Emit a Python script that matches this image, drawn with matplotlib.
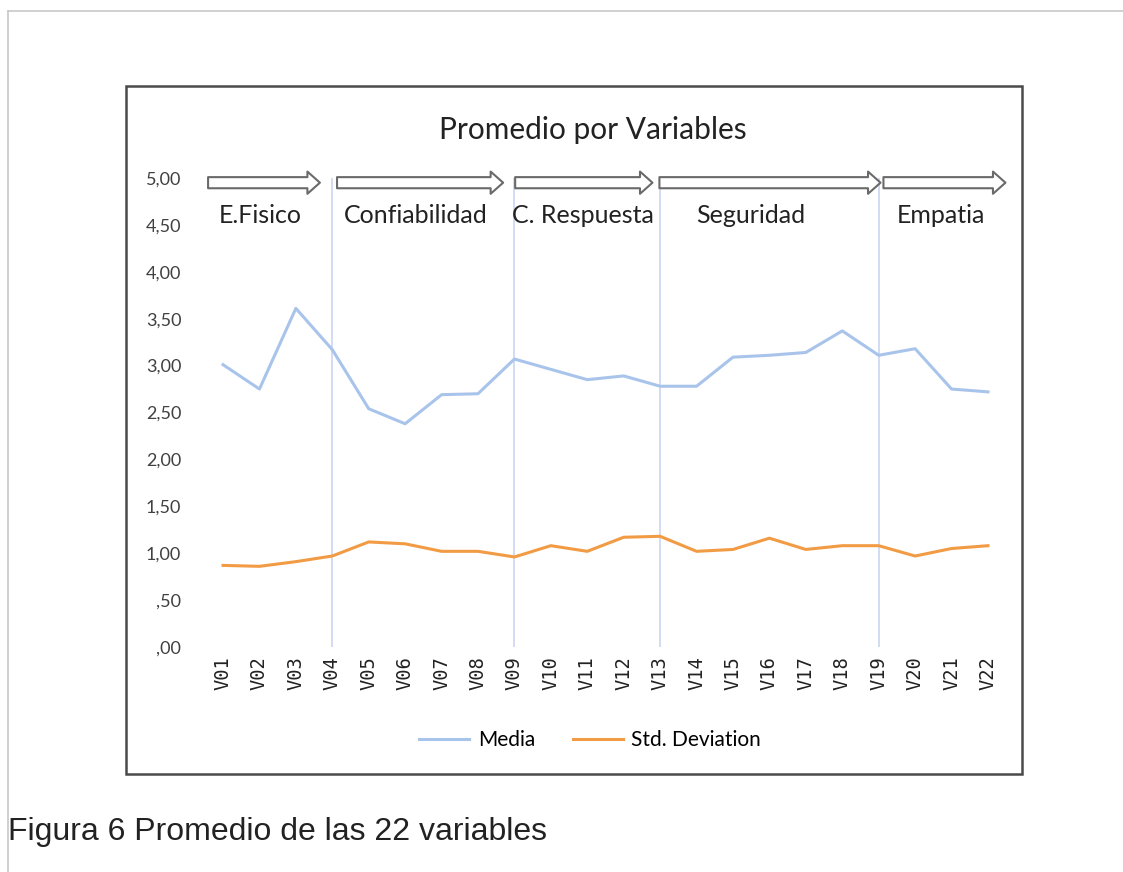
import matplotlib.pyplot as plt
from matplotlib.patches import Rectangle, FancyArrowPatch, ArrowStyle
from matplotlib.lines import Line2D
import numpy as np

# Data
variables = ['V%02d' % i for i in range(1, 23)]
media = [3.01, 2.75, 3.61, 3.17, 2.54, 2.38, 2.69, 2.70, 3.07, 2.96, 2.85,
         2.89, 2.78, 2.78, 3.09, 3.11, 3.14, 3.37, 3.11, 3.18, 2.75, 2.72]
std_dev = [0.87, 0.86, 0.91, 0.97, 1.12, 1.10, 1.02, 1.02, 0.96, 1.08, 1.02,
           1.17, 1.18, 1.02, 1.04, 1.16, 1.04, 1.08, 1.08, 0.97, 1.05, 1.08]
yticks = [0, 0.5, 1, 1.5, 2, 2.5, 3, 3.5, 4, 4.5, 5]
ytick_labels = [',00', ',50', '1,00', '1,50', '2,00', '2,50', '3,00',
                '3,50', '4,00', '4,50', '5,00']

# dimension groups: name, arrow start, arrow end (category units), label x
groups = ['E.Fisico', 'Confiabilidad', 'C. Respuesta', 'Seguridad', 'Empatia']
arrow_start = [-0.41, 3.13, 8.02, 11.98, 18.13]
arrow_end = [2.66, 7.69, 11.79, 18.05, 21.48]
label_x = [1.02, 5.3, 9.89, 14.48, 19.7]
dividers = [3, 8, 12, 18]

blue = '#a9c4eb'
orange = '#f29b45'
text_col = '#404040'
font = 'Lato'

W, H = 1123, 872
fig = plt.figure(figsize=(W / 100, H / 100), dpi=100)

# page frame and chart frame
fig.add_artist(Line2D([8 / W, 8 / W], [0, 1 - 11 / H], color='#c8c8c8', lw=1.2))
fig.add_artist(Line2D([8 / W, 1], [1 - 11 / H, 1 - 11 / H], color='#c8c8c8', lw=1.2))
fig.add_artist(Rectangle((126 / W, 1 - 774 / H), (1022 - 126) / W, (774 - 86) / H,
                         fill=False, ec='#4a4a4a', lw=1.8))

ax = fig.add_axes([204.8 / W, 1 - 647 / H, 801.4 / W, 469 / H])
x = np.arange(len(variables))

for d in dividers:
    ax.plot([d, d], [0, 5], color='#c9d6f2', lw=1.2, zorder=1)

ax.plot(x, media, color=blue, lw=2.2, label='Media', zorder=3)
ax.plot(x, std_dev, color=orange, lw=2.2, label='Std. Deviation', zorder=3)

ax.set_xlim(-0.5, len(variables) - 0.5)
ax.set_ylim(0, 5)
ax.set_yticks(yticks)
ax.set_yticklabels(ytick_labels, fontsize=13, color=text_col, family=font)
ax.set_xticks(x)
ax.set_xticklabels(variables, rotation=90, fontsize=13.5, color='#222222',
                   family='DejaVu Sans Mono')
ax.tick_params(length=0)
ax.tick_params(axis='y', pad=17)
ax.tick_params(axis='x', pad=7)
for s in ax.spines.values():
    s.set_visible(False)

# block arrows and dimension names
style = ArrowStyle.Simple(head_length=9, head_width=16, tail_width=8)
for a0, a1 in zip(arrow_start, arrow_end):
    arr = FancyArrowPatch((a0, 4.95), (a1, 4.95), arrowstyle=style,
                          fc='white', ec='#6a6a6a', lw=1.5,
                          shrinkA=0, shrinkB=0, clip_on=False, zorder=4)
    ax.add_patch(arr)
for name, lx in zip(groups, label_x):
    ax.text(lx, 4.6, name, ha='center', va='center', fontsize=18,
            color='#222222', family=font)

fig.text(593 / W, 1 - 130 / H, 'Promedio por Variables', ha='center',
         va='center', fontsize=21.5, color='#222222', family=font)

fig.legend(handles=ax.get_lines()[-2:], labels=['Media', 'Std. Deviation'],
           loc='center', bbox_to_anchor=(590 / W, 1 - 740 / H), ncol=2,
           frameon=False, handlelength=2.4, columnspacing=1.8,
           handletextpad=0.4, prop={'family': font, 'size': 15})

fig.text(8 / W, 1 - 832 / H, 'Figura 6 Promedio de las 22 variables',
         ha='left', va='center', fontsize=23, color='#222222',
         family='Liberation Sans')

fig.savefig('out.png', dpi=100, facecolor='white')
